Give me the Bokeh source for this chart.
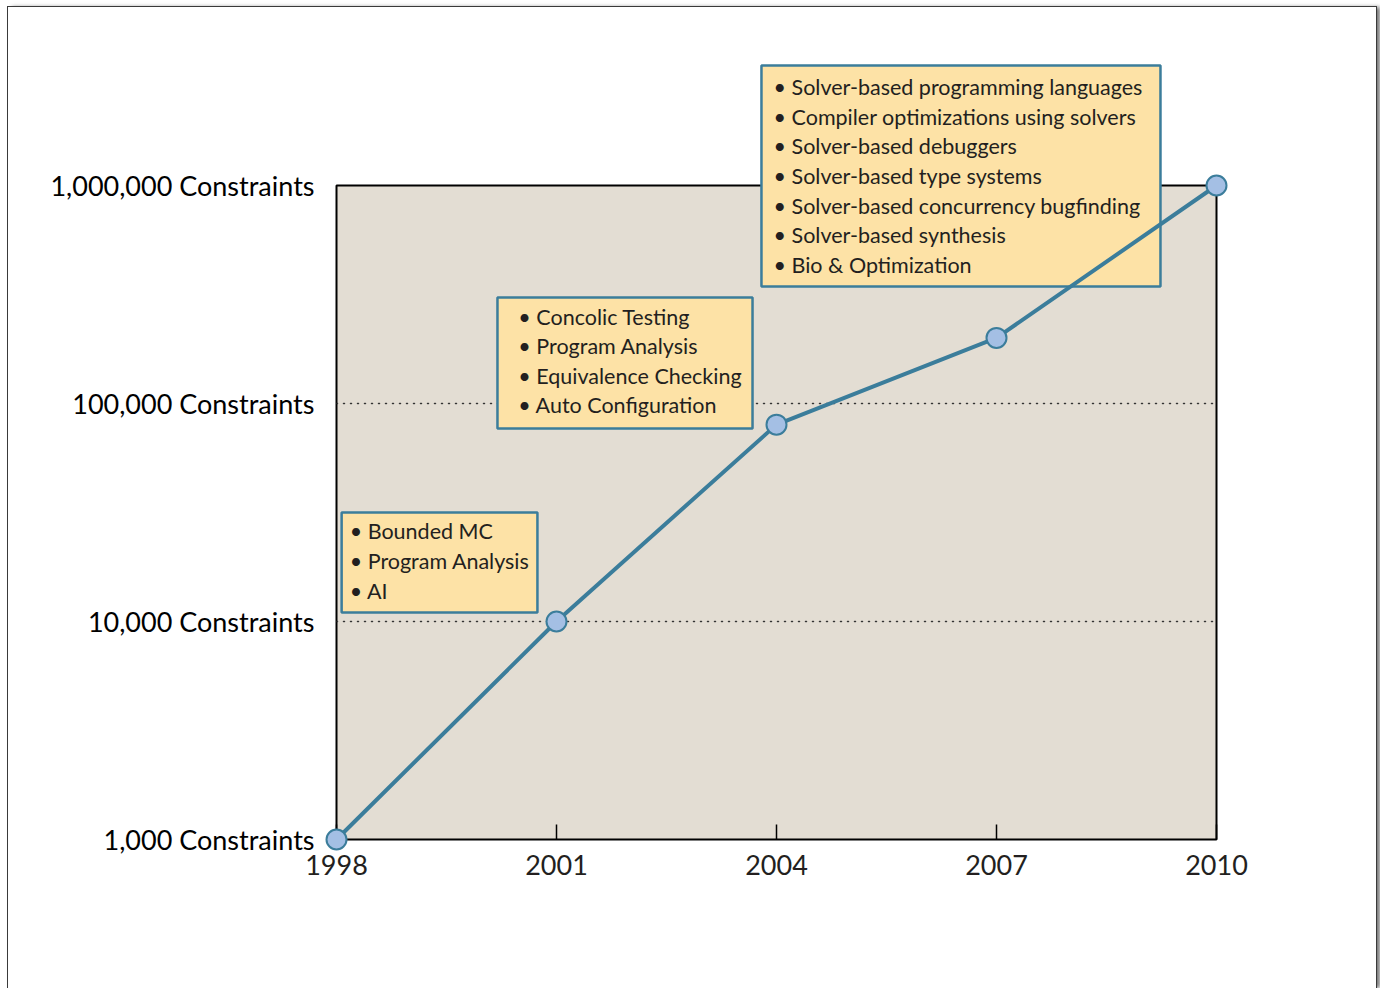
from bokeh.plotting import figure
from bokeh.models import FixedTicker, Range1d
from bokeh.core.properties import value
from bokeh.embed import file_html
from bokeh.resources import INLINE

# Growth in solver capacity over time
years = [1998, 2001, 2004, 2007, 2010]
constraints = [1000, 10000, 80000, 200000, 1000000]

year_ticks = [1998, 2001, 2004, 2007, 2010]
level_ticks = [1000, 10000, 100000, 1000000]
level_labels = ["1,000 Constraints", "10,000 Constraints",
                "100,000 Constraints", "1,000,000 Constraints"]
grid_levels = [10000, 100000]

# Application areas enabled at each stage
apps_early = ["Bounded MC", "Program Analysis", "AI"]
apps_mid = ["Concolic Testing", "Program Analysis", "Equivalence Checking",
            "Auto Configuration"]
apps_late = ["Solver-based programming languages",
             "Compiler optimizations using solvers",
             "Solver-based debuggers",
             "Solver-based type systems",
             "Solver-based concurrency bugfinding",
             "Solver-based synthesis",
             "Bio & Optimization"]

FONT = "Lato"
TEXT = "#231f20"
PANEL = "#e3ddd3"
NOTE_FILL = "#fde2a6"
BLUE = "#3b7d9b"
DOT = "#a4bfe4"

# callout placement in chart coordinates:
# (box left, box right, box bottom, box top, text left, text top)
note_boxes = [
    (apps_early, 1998.07, 2000.74, 11000, 31600, 1998.18, 29700),
    (apps_mid, 2000.195, 2003.673, 76800, 306400, 2000.48, 287500),
    (apps_late, 2003.795, 2009.236, 344000, 3552000, 2003.96, 3240000),
]

p = figure(width=1368, height=981,
           x_range=Range1d(year_ticks[0], year_ticks[-1]),
           y_range=Range1d(level_ticks[0], level_ticks[-1]),
           y_axis_type="log",
           output_backend="svg", toolbar_location=None,
           min_border_left=328, min_border_right=160,
           min_border_top=178, min_border_bottom=149,
           background_fill_color=PANEL, border_fill_color="white",
           outline_line_color="black", outline_line_width=2,
           outline_line_alpha=1,
           margin=(7, 0, 0, 8),
           styles={"outline": "1.5px solid #3a3a3a",
                   "box-shadow": "4px 0 4px rgba(0,0,0,0.55)"})

# axes
xa = p.xaxis[0]
xa.ticker = FixedTicker(ticks=year_ticks)
xa.axis_line_color = None
xa.major_tick_in = 15
xa.major_tick_out = 0
xa.major_tick_line_color = "black"
xa.major_tick_line_width = 1.5
xa.minor_tick_line_color = None
xa.major_label_standoff = 15
xa.major_label_text_font = FONT
xa.major_label_text_font_size = "27px"
xa.major_label_text_color = TEXT

ya = p.yaxis[0]
ya.ticker = FixedTicker(ticks=level_ticks)
ya.major_label_overrides = dict(zip(level_ticks, level_labels))
ya.axis_line_color = None
ya.major_tick_line_color = None
ya.minor_tick_line_color = None
ya.major_label_standoff = 16
ya.major_label_text_font = FONT
ya.major_label_text_font_size = "27px"
ya.major_label_text_color = "black"

p.xgrid.visible = False
p.ygrid.ticker = FixedTicker(ticks=grid_levels)
p.ygrid.grid_line_color = "#333333"
p.ygrid.grid_line_width = 1.5
p.ygrid.grid_line_dash = "1 6"
p.ygrid.grid_line_cap = "round"

# callouts: drawn on the overlay level so the top one may rise above the box,
# and before the curve so the curve is painted over them
for items, x0, x1, y0, y1, tx, ty in note_boxes:
    box = p.quad(left=[x0], right=[x1], bottom=[y0], top=[y1],
                 fill_color=NOTE_FILL, fill_alpha=1,
                 line_color=BLUE, line_width=2.5)
    box.level = "overlay"
    txt = p.text(x=[tx], y=[ty],
                 text=["\n".join("\u2022 " + s for s in items)],
                 text_font=value(FONT), text_font_size="21.5px",
                 text_color=TEXT, text_align="left", text_baseline="top",
                 text_line_height=1.14)
    txt.level = "overlay"

# capacity curve, not cut at the box edges
line = p.line(years, constraints, line_color=BLUE, line_width=4)
dots = p.scatter(years, constraints, size=20, fill_color=DOT,
                 line_color=BLUE, line_width=2)
line.level = "overlay"
dots.level = "overlay"

open("out.html", "w").write(file_html(p, INLINE))
